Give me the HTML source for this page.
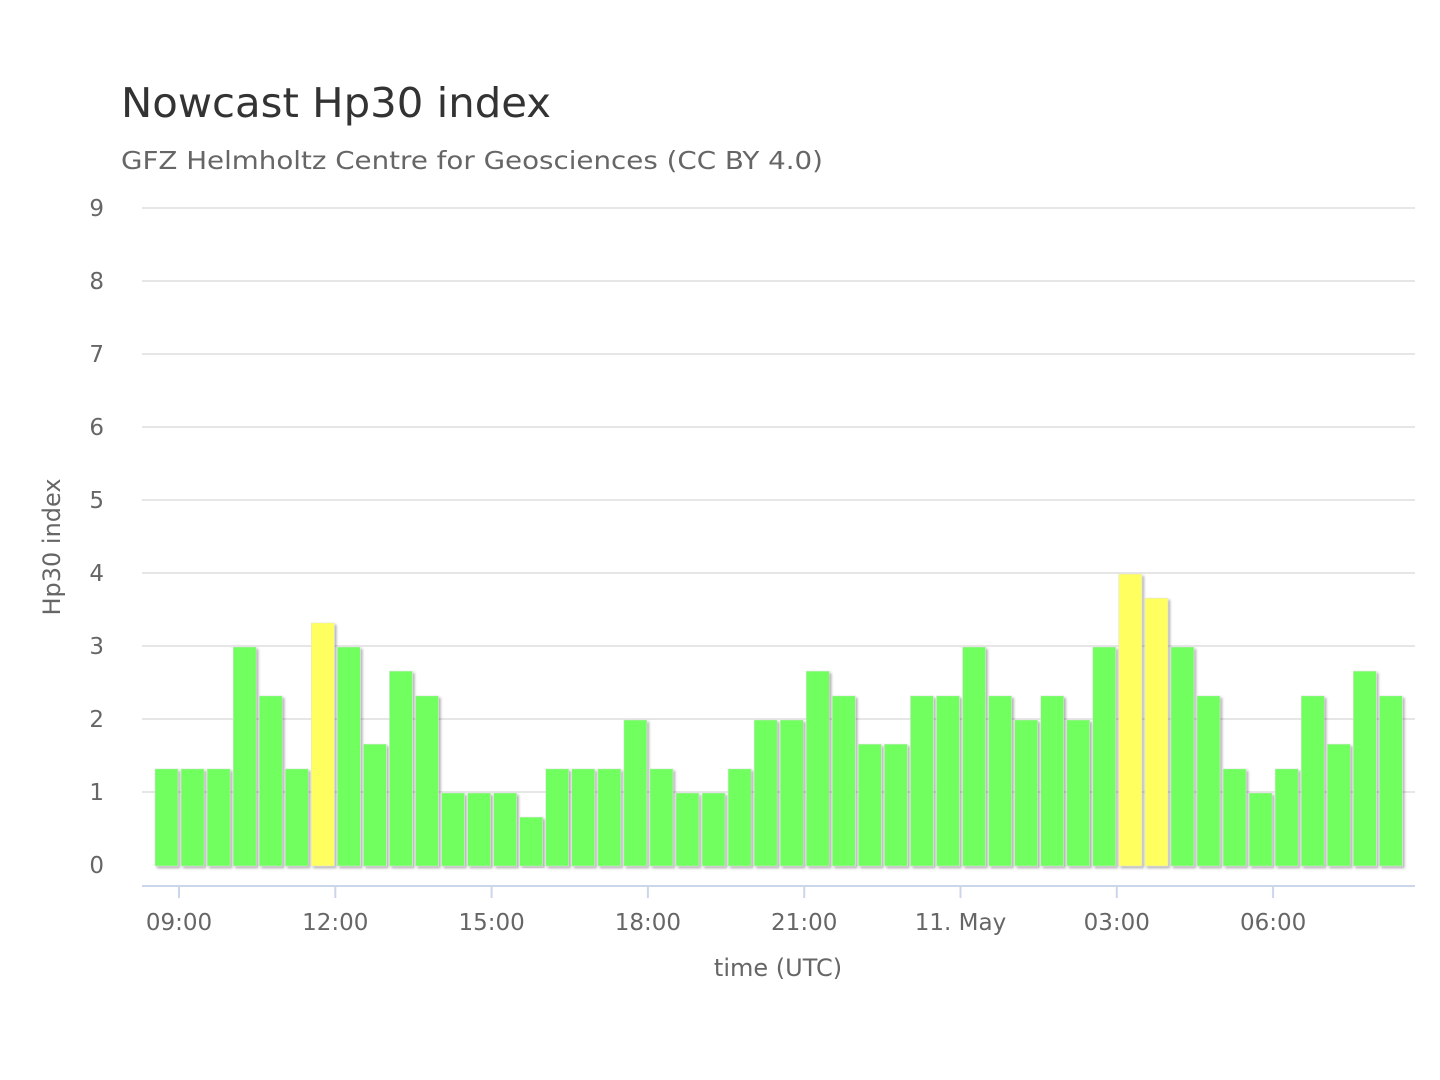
<!DOCTYPE html>
<html><head><meta charset="utf-8"><style>
html,body{margin:0;padding:0;background:#fff;}
svg{display:block;font-family:"DejaVu Sans","Liberation Sans",sans-serif;}
</style></head><body>
<svg id="c" width="1440" height="1080" viewBox="0 0 1440 1080" xmlns="http://www.w3.org/2000/svg">
<defs><filter id="sh" x="-20%" y="-5%" width="150%" height="110%"><feDropShadow dx="2" dy="2" stdDeviation="1.2" flood-color="#000" flood-opacity="0.3"/></filter></defs>
<rect width="1440" height="1080" fill="#fff"/>
<text x="121" y="117" font-size="41" fill="#333" textLength="430" lengthAdjust="spacingAndGlyphs">Nowcast Hp30 index</text>
<text x="121" y="169" font-size="25" fill="#666" textLength="702" lengthAdjust="spacingAndGlyphs">GFZ Helmholtz Centre for Geosciences (CC BY 4.0)</text>
<g id="grid"></g>
<line x1="142" y1="886" x2="1415" y2="886" stroke="#ccd6eb" stroke-width="2"/>
<g id="bars"></g>
<text transform="translate(60,547) rotate(-90)" text-anchor="middle" font-size="24" fill="#666">Hp30 index</text>
<text x="778" y="976" text-anchor="middle" font-size="24" fill="#666">time (UTC)</text>
</svg>
<script>
var NS="http://www.w3.org/2000/svg";
function el(t,a,p,txt){var e=document.createElementNS(NS,t);for(var k in a)e.setAttribute(k,a[k]);if(txt!=null)e.textContent=txt;p.appendChild(e);return e;}
var g=document.getElementById('grid'),b=document.getElementById('bars');
for(var i=0;i<=9;i++){var y=865-73*i;
 if(i>0)el('line',{x1:142,x2:1415,y1:y,y2:y,stroke:'#e6e6e6','stroke-width':2},g);
 el('text',{x:104,y:y+8,'text-anchor':'end','font-size':23,fill:'#666'},g,String(i));}
var labs=['09:00','12:00','15:00','18:00','21:00','11. May','03:00','06:00'];
for(var i=0;i<8;i++){var x=179+156.3*i;
 el('line',{x1:x,x2:x,y1:886,y2:898,stroke:'#ccd6eb','stroke-width':2},g);
 el('text',{x:x,y:930,'text-anchor':'middle','font-size':23,fill:'#666'},g,labs[i]);}
var v=[1.33,1.33,1.33,3,2.33,1.33,3.33,3,1.67,2.67,2.33,1,1,1,0.67,1.33,1.33,1.33,2,1.33,1,1,1.33,2,2,2.67,2.33,1.67,1.67,2.33,2.33,3,2.33,2,2.33,2,3,4,3.67,3,2.33,1.33,1,1.33,2.33,1.67,2.67,2.33];
for(var i=0;i<v.length;i++){var c=166.5+26.05*i,h=v[i]*73;
 var col=(i==6||i==37||i==38)?'#ffff5e':'#6fff5e';
 el('rect',{x:c-11.5,y:866-h,width:23,height:h,fill:col,stroke:'#e0e0e0','stroke-width':0.5,filter:'url(#sh)'},b);}
</script>
</body></html>
